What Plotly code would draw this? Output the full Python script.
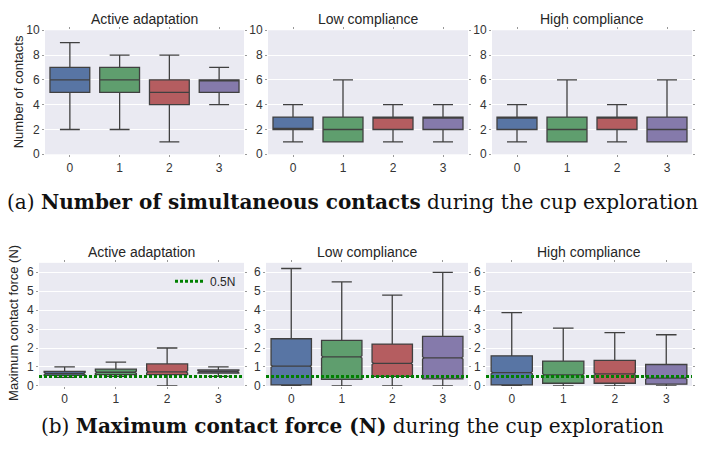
import plotly.graph_objects as go

W, H = 706, 452

categories = ["0", "1", "2", "3"]
panel_titles = ["Active adaptation", "Low compliance", "High compliance"]
box_colors = ["#5875A4", "#5F9E6E", "#B55D60", "#857AAB"]

# (a) Number of simultaneous contacts: per panel, per category
contacts_low = [[2, 2, 1, 4], [1, 1, 1, 1], [1, 1, 1, 1]]
contacts_q1 = [[5, 5, 4, 5], [2, 1, 2, 2], [2, 1, 2, 1]]
contacts_med = [[6, 6, 5, 6], [2, 2, 3, 3], [3, 2, 3, 2]]
contacts_q3 = [[7, 7, 6, 6], [3, 3, 3, 3], [3, 3, 3, 3]]
contacts_high = [[9, 8, 8, 7], [4, 6, 4, 4], [4, 6, 4, 6]]

# (b) Maximum contact force (N)
force_low = [[0.45, 0.5, 0.0, 0.5], [0.0, 0.0, 0.0, 0.0], [0.0, 0.0, 0.0, 0.0]]
force_q1 = [[0.55, 0.6, 0.6, 0.67], [0.05, 0.34, 0.5, 0.37], [0.05, 0.14, 0.14, 0.09]]
force_med = [[0.65, 0.72, 0.74, 0.75], [1.04, 1.53, 1.19, 1.48], [0.70, 0.58, 0.63, 0.41]]
force_q3 = [[0.76, 0.89, 1.16, 0.84], [2.49, 2.40, 2.21, 2.61], [1.59, 1.31, 1.35, 1.13]]
force_high = [[1.0, 1.25, 2.0, 1.0], [6.2, 5.49, 4.79, 6.0], [3.87, 3.05, 2.81, 2.7]]

threshold = 0.5
threshold_label = "0.5N"

contacts_ticks = [0, 2, 4, 6, 8, 10]
force_ticks = [0, 1, 2, 3, 4, 5, 6]

caption_a = "(a) <b>Number of simultaneous contacts</b> during the cup exploration"
caption_b = "(b) <b>Maximum contact force (N)</b> during the cup exploration"
ylabel_a = "Number of contacts"
ylabel_b = "Maximum contact force (N)"

# ---------- layout geometry (pixels) ----------
top_x = [(45, 244), (268, 468), (492, 692)]
bot_x = [(39, 244), (266, 468), (486, 692)]
top_y = (24, 152)
bot_y = (264, 391)


def px_dom_x(a, b):
    return [a / W, b / W]


def px_dom_y(top, bottom):
    return [1 - bottom / H, 1 - top / H]


fig = go.Figure()
TXT = "#262626"
AX_FONT = dict(family="Liberation Sans, Arial, sans-serif", size=12, color="#333333")

layout = dict(
    width=W, height=H, margin=dict(l=0, r=0, t=0, b=0),
    paper_bgcolor="white", plot_bgcolor="#EAEAF2",
    boxmode="overlay", showlegend=True,
    font=dict(family="Liberation Sans, Arial, sans-serif", color=TXT),
)

annotations = []
shapes = []


def add_row(row, xdoms, ydom, lows, q1s, meds, q3s, highs, yrange, yticks, notch):
    for p in range(3):
        idx = row * 3 + p + 1
        xa = "x" if idx == 1 else f"x{idx}"
        ya = "y" if idx == 1 else f"y{idx}"
        for c, cat in enumerate(categories):
            kw = {}
            if notch:
                kw = dict(notched=True, notchspan=[notch], notchwidth=0.04)
            fig.add_trace(go.Box(
                x=[cat], q1=[q1s[p][c]], median=[meds[p][c]], q3=[q3s[p][c]],
                lowerfence=[lows[p][c]], upperfence=[highs[p][c]],
                width=0.8, whiskerwidth=0.5,
                fillcolor=box_colors[c],
                line=dict(color="#404040", width=1.3),
                showlegend=False, xaxis=xa, yaxis=ya, hoverinfo="skip", **kw,
            ))
        kx = "xaxis" if idx == 1 else f"xaxis{idx}"
        ky = "yaxis" if idx == 1 else f"yaxis{idx}"
        layout[kx] = dict(
            domain=px_dom_x(*xdoms[p]), anchor=ya, type="category",
            categoryorder="array", categoryarray=categories,
            range=[-0.5, 3.5], showgrid=False, zeroline=False, showline=False,
            ticks="outside", ticklen=2, tickcolor="#999999", mirror="ticks",
            tickfont=AX_FONT, fixedrange=True,
        )
        layout[ky] = dict(
            domain=px_dom_y(*ydom), anchor=xa, range=yrange,
            tickvals=yticks, showgrid=True, gridcolor="white", gridwidth=1.2,
            zeroline=False, showline=False,
            ticks="outside", ticklen=2, tickcolor="#999999", mirror="ticks",
            tickfont=AX_FONT, fixedrange=True,
        )
        cx = (xdoms[p][0] + xdoms[p][1]) / 2 / W
        annotations.append(dict(
            text=panel_titles[p], x=cx, y=1 - (ydom[0] - 1) / H,
            xref="paper", yref="paper", xanchor="center", yanchor="bottom",
            showarrow=False, font=dict(size=14, color=TXT),
        ))


add_row(0, top_x, top_y, contacts_low, contacts_q1, contacts_med, contacts_q3,
        contacts_high, [0, 10], contacts_ticks, None)
add_row(1, bot_x, bot_y, force_low, force_q1, force_med, force_q3,
        force_high, [0, 6.5], force_ticks, 0.06)

# threshold line in the force panels
for idx in (4, 5, 6):
    xa = f"x{idx}"
    shapes.append(dict(
        type="line", xref=f"{xa} domain", yref=f"y{idx}",
        x0=0, x1=1, y0=threshold, y1=threshold,
        line=dict(color="#008000", width=3, dash="3px,2px"), layer="above",
    ))

# legend entry for the threshold
fig.add_trace(go.Scatter(
    x=[None], y=[None], mode="lines", name=threshold_label,
    line=dict(color="#008000", width=3, dash="3px,2px"),
    xaxis="x4", yaxis="y4",
))
layout["legend"] = dict(
    x=170 / W, y=1 - 268 / H, xanchor="left", yanchor="top",
    bgcolor="rgba(0,0,0,0)", itemwidth=30,
    font=dict(size=12, color=TXT),
)

# y-axis titles
annotations.append(dict(
    text=ylabel_a, x=18 / W, y=1 - (top_y[0] + top_y[1]) / 2 / H,
    xref="paper", yref="paper", xanchor="center", yanchor="middle",
    textangle=-90, showarrow=False, font=dict(size=13, color=TXT),
))
annotations.append(dict(
    text=ylabel_b, x=14 / W, y=1 - 326 / H,
    xref="paper", yref="paper", xanchor="center", yanchor="middle",
    textangle=-90, showarrow=False, font=dict(size=13, color=TXT),
))

# captions
CAP_FONT = dict(family="DejaVu Serif, Liberation Serif, serif", size=20, color="#111111")
annotations.append(dict(
    text=caption_a, x=352 / W, y=1 - 201 / H, xref="paper", yref="paper",
    xanchor="center", yanchor="middle", showarrow=False, font=CAP_FONT,
))
annotations.append(dict(
    text=caption_b, x=352 / W, y=1 - 432 / H, xref="paper", yref="paper",
    xanchor="center", yanchor="middle", showarrow=False, font=CAP_FONT,
))

layout["annotations"] = annotations
layout["shapes"] = shapes
fig.update_layout(**layout)
fig.write_html(
    "out.html",
    config={"displayModeBar": False},
    post_script="document.body.style.margin='0';document.body.style.overflow='hidden';",
)
